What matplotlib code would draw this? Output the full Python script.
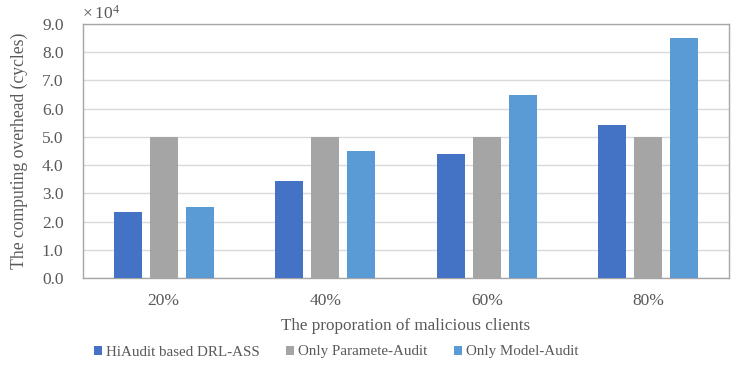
import numpy as np
import matplotlib.pyplot as plt

plt.rcParams['font.family'] = ['Liberation Serif', 'DejaVu Serif']
plt.rcParams['mathtext.fontset'] = 'custom'
plt.rcParams['mathtext.rm'] = 'Liberation Serif'

categories = ['20%', '40%', '60%', '80%']
series = ['HiAudit based DRL-ASS', 'Only Paramete-Audit', 'Only Model-Audit']
hiaudit = [2.34, 3.44, 4.4, 5.42]
param_audit = [5.0, 5.0, 5.0, 5.0]
model_audit = [2.52, 4.5, 6.5, 8.5]
colors = ['#4472C4', '#A5A5A5', '#5B9BD5']

text_color = '#595959'

fig = plt.figure(figsize=(7.41, 3.71), dpi=100)
ax = fig.add_axes([83 / 741, 1 - 278 / 371, 646 / 741, 254 / 371])

x = np.arange(len(categories))
width = 0.173
step = 0.223
for k, (vals, name) in enumerate(zip([hiaudit, param_audit, model_audit], series)):
    ax.bar(x + (k - 1) * step, vals, width, color=colors[k], label=name, zorder=3)

ax.set_xlim(-0.5, len(categories) - 0.5)
ax.set_ylim(0, 9)
ax.set_yticks(np.arange(0, 9.1, 1.0))
ax.set_yticklabels([f'{v:.1f}' for v in np.arange(0, 9.1, 1.0)])
ax.set_xticks(x, labels=categories)
ax.tick_params(axis='both', length=0, colors=text_color, labelsize=12.5)
ax.tick_params(axis='x', pad=11)
ax.tick_params(axis='y', pad=14)
ax.grid(axis='y', color='#d9d9d9', linewidth=1, zorder=0)
for s in ax.spines.values():
    s.set_color('#a6a6a6')
    s.set_linewidth(1)

ax.set_xlabel('The proporation of malicious clients', color=text_color, fontsize=12.3, labelpad=6)
ax.set_ylabel('The computing overhead (cycles)', color=text_color, fontsize=12.7, labelpad=10)
ax.text(-0.002, 1.006, r'$\times\,\mathregular{10^4}$', transform=ax.transAxes, color=text_color,
        fontsize=12.5, ha='left', va='bottom')

fig.legend(loc='center left', bbox_to_anchor=(94 / 741, 1 - 352 / 371), ncol=3, frameon=False,
           fontsize=10.8, labelcolor=text_color, handlelength=0.55, handleheight=0.55,
           handletextpad=0.25, columnspacing=1.75, borderpad=0, borderaxespad=0)

fig.savefig('out.png', dpi=100)
